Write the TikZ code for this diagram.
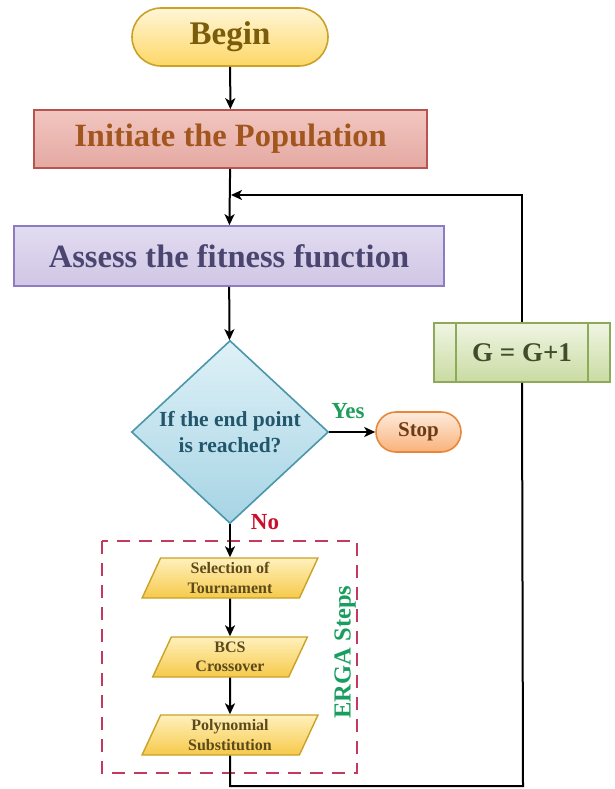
\documentclass[tikz,border=0pt]{standalone}
\usepackage{fontspec}
\setmainfont{Liberation Serif}
\usetikzlibrary{shapes.geometric,shapes.misc,arrows.meta}
\definecolor{beginTop}{HTML}{FFF6D8}
\definecolor{beginBot}{HTML}{FDD765}
\definecolor{beginBd}{HTML}{C9A227}
\definecolor{beginTx}{HTML}{7A5C0A}
\definecolor{initTop}{HTML}{F2C6C0}
\definecolor{initMid}{HTML}{FBE4E1}
\definecolor{initBot}{HTML}{E4A9A2}
\definecolor{initBd}{HTML}{B85450}
\definecolor{initTx}{HTML}{A0561C}
\definecolor{assTop}{HTML}{E2DCF0}
\definecolor{assMid}{HTML}{F4F1FA}
\definecolor{assBot}{HTML}{D0C6E5}
\definecolor{assBd}{HTML}{8E7CC3}
\definecolor{assTx}{HTML}{4B4670}
\definecolor{diaTop}{HTML}{DFF1F7}
\definecolor{diaBot}{HTML}{A6D4E4}
\definecolor{diaBd}{HTML}{4A97AB}
\definecolor{diaTx}{HTML}{22566B}
\definecolor{stopTop}{HTML}{FDEBDC}
\definecolor{stopBot}{HTML}{F9B27A}
\definecolor{stopBd}{HTML}{E8873A}
\definecolor{stopTx}{HTML}{6E3B14}
\definecolor{gTop}{HTML}{F0F5E3}
\definecolor{gBot}{HTML}{C9DBA2}
\definecolor{gBd}{HTML}{8CAA5A}
\definecolor{gTx}{HTML}{3F4D2C}
\definecolor{parTop}{HTML}{FFF1BC}
\definecolor{parBot}{HTML}{F6C94A}
\definecolor{parBd}{HTML}{C9A227}
\definecolor{parTx}{HTML}{5C4A1C}
\definecolor{dashC}{HTML}{C23B5E}
\definecolor{yesC}{HTML}{1E9E5A}
\definecolor{noC}{HTML}{C8102E}
\definecolor{ergaC}{HTML}{1A9E60}
\begin{document}
\begin{tikzpicture}[x=1pt,y=-1pt,
  conn/.style={line width=2pt},
  arr/.style={line width=2pt,-{Stealth[length=11pt,width=10pt,inset=3pt]}},
  pill/.style={rounded rectangle,line width=1.6pt,inner sep=0pt},
  bigbox/.style={rectangle,line width=1.6pt,inner sep=0pt},
  para/.style={trapezium,trapezium left angle=70,trapezium right angle=110,
    trapezium stretches=true,line width=1.4pt,draw=parBd,top color=parTop,bottom color=parBot,
    minimum height=40pt,inner sep=0pt,align=center,text=parTx,
    font=\fontsize{16}{19.5}\selectfont\bfseries},
  lbl/.style={font=\fontsize{23}{25}\selectfont\bfseries,inner sep=0pt}
]
\useasboundingbox (0,0) rectangle (614,789);

\node[pill,draw=beginBd,top color=beginTop,bottom color=beginBot,
  minimum width=196pt,minimum height=58pt,text=beginTx,
  font=\fontsize{33}{35}\selectfont\bfseries] (begin) at (230,37) {Begin};

\node[bigbox,draw=initBd,top color=initTop,middle color=initMid,bottom color=initBot,
  minimum width=393pt,minimum height=58pt,text=initTx,
  font=\fontsize{32.5}{34}\selectfont\bfseries] (init) at (230.5,139) {Initiate the Population};

\node[bigbox,draw=assBd,top color=assTop,middle color=assMid,bottom color=assBot,
  minimum width=430pt,minimum height=60pt,text=assTx,
  font=\fontsize{32.5}{34}\selectfont\bfseries] (assess) at (229,256) {Assess the fitness function};

\node[diamond,draw=diaBd,line width=1.6pt,top color=diaTop,bottom color=diaBot,
  minimum width=197pt,minimum height=177pt,inner sep=0pt,align=center,text=diaTx,
  font=\fontsize{21.5}{26}\selectfont\bfseries] (dec) at (230,432) {If the end point\\is reached?};

\node[pill,draw=stopBd,top color=stopTop,bottom color=stopBot,
  minimum width=85pt,minimum height=40pt,text=stopTx,
  font=\fontsize{21}{22}\selectfont\bfseries] (stop) at (418.5,432) {Stop};

\node[bigbox,draw=gBd,top color=gTop,bottom color=gBot,
  minimum width=176pt,minimum height=59pt,text=gTx,
  font=\fontsize{27}{28}\selectfont\bfseries] (g) at (522,352.5) {G = G+1};
\draw[gBd,line width=1.6pt] ([xshift=23pt]g.north west) -- ([xshift=23pt]g.south west);
\draw[gBd,line width=1.6pt] ([xshift=-23pt]g.north east) -- ([xshift=-23pt]g.south east);

\node[para,minimum width=176pt] (sel) at (230,578) {Selection of\\Tournament};
\node[para,minimum width=156pt] (bcs) at (230,657) {BCS\\Crossover};
\node[para,minimum width=176pt] (poly) at (230,735) {Polynomial\\Substitution};

\draw[dashC,line width=1.8pt,dash pattern=on 13pt off 9pt] (102,541) rectangle (357,773);
\node[lbl,text=ergaC,rotate=90,font=\fontsize{24.5}{26}\selectfont\bfseries] (erga) at (345,652) {ERGA Steps};

\node[lbl,text=yesC] (yes) at (348,411) {Yes};
\node[lbl,text=noC] (no) at (265,522) {No};

\coordinate (join) at (231,195);
\coordinate (bl) at (230,786);
\coordinate (br) at (523,786);

\draw[arr] (begin) -- (init);
\draw[arr] (init) -- (assess);
\draw[arr] (assess) -- (dec);
\draw[arr] (dec) -- (stop);
\draw[arr] (dec) -- (sel);
\draw[arr] (sel) -- (bcs);
\draw[arr] (bcs) -- (poly);
\draw[conn] (poly.south) -- (bl) -- (br) -- (g.south);
\draw[arr] (g.north) |- (join);
\end{tikzpicture}
\end{document}
